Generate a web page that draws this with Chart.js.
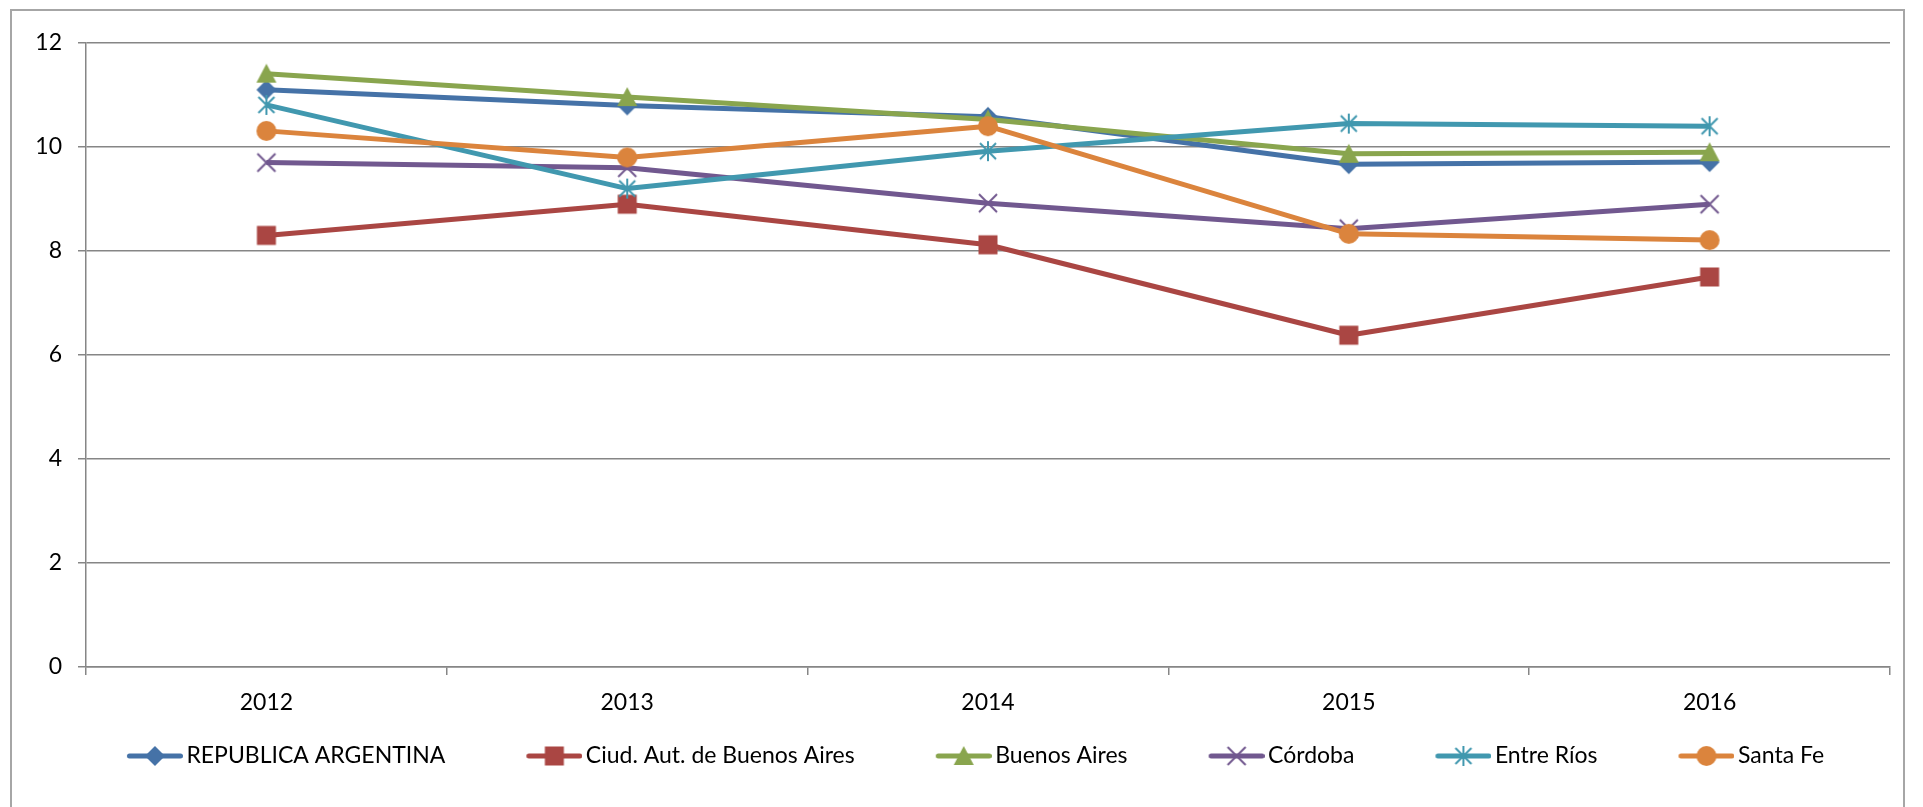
<!DOCTYPE html>
<html>
<head>
<meta charset="utf-8">
<script src="https://cdn.jsdelivr.net/npm/chart.js@4/dist/chart.umd.min.js"></script>
<style>
  html, body { margin: 0; padding: 0; background: #fff; overflow: hidden; }
  #wrap { position: relative; width: 1923px; height: 807px; }
  #frame { position: absolute; left: 10px; top: 9px; width: 1895px; height: 900px; border: 2px solid #a6a6a6; box-sizing: border-box; pointer-events: none; }
  canvas { position: absolute; left: 0; top: 0; }
</style>
</head>
<body>
<div id="wrap">
  <canvas id="c" width="1923" height="807"></canvas>
  <div id="frame"></div>
</div>
<script>
const years = ['2012', '2013', '2014', '2015', '2016'];
const seriesNames = ['REPUBLICA ARGENTINA', 'Ciud. Aut. de Buenos Aires', 'Buenos Aires', 'Córdoba', 'Entre Ríos', 'Santa Fe'];
const republicaArgentina = [11.1, 10.8, 10.58, 9.67, 9.71];
const ciudAutBuenosAires = [8.3, 8.9, 8.12, 6.38, 7.5];
const buenosAires = [11.41, 10.96, 10.53, 9.87, 9.9];
const cordoba = [9.7, 9.6, 8.92, 8.43, 8.9];
const entreRios = [10.81, 9.2, 9.92, 10.45, 10.4];
const santaFe = [10.31, 9.8, 10.4, 8.33, 8.21];
const yTicks = [0, 2, 4, 6, 8, 10, 12];

const colors = ['#4572A7', '#AA4643', '#89A54E', '#71588F', '#4198AF', '#DB843D'];
const markerKinds = ['diamond', 'square', 'triangle', 'x', 'star', 'circle'];
const values = [republicaArgentina, ciudAutBuenosAires, buenosAires, cordoba, entreRios, santaFe];

function makeMarker(kind, color) {
  const c = document.createElement('canvas');
  c.width = 24; c.height = 24;
  const g = c.getContext('2d');
  g.fillStyle = color; g.strokeStyle = color;
  const m = 12;
  g.beginPath();
  if (kind === 'diamond') {
    g.moveTo(m, m - 10); g.lineTo(m + 10, m); g.lineTo(m, m + 10); g.lineTo(m - 10, m); g.closePath(); g.fill();
  } else if (kind === 'square') {
    g.fillRect(m - 9.5, m - 9.5, 19, 19);
  } else if (kind === 'triangle') {
    g.moveTo(m, m - 10); g.lineTo(m + 10, m + 9); g.lineTo(m - 10, m + 9); g.closePath(); g.fill();
  } else if (kind === 'x') {
    g.lineWidth = 2;
    g.moveTo(m - 9, m - 9); g.lineTo(m + 9, m + 9);
    g.moveTo(m + 9, m - 9); g.lineTo(m - 9, m + 9); g.stroke();
  } else if (kind === 'star') {
    g.lineWidth = 2;
    g.moveTo(m, m - 10); g.lineTo(m, m + 10);
    g.moveTo(m - 8, m - 8); g.lineTo(m + 8, m + 8);
    g.moveTo(m + 8, m - 8); g.lineTo(m - 8, m + 8); g.stroke();
  } else if (kind === 'circle') {
    g.arc(m, m, 10, 0, Math.PI * 2); g.fill();
  }
  return c;
}

// legend icon: transparent lead-in, then line with marker, ending just before the text
const BOXW = 109;
function makeLegendIcon(marker, color) {
  const c = document.createElement('canvas');
  c.width = BOXW + 16; c.height = 24;
  const g = c.getContext('2d');
  const x0 = BOXW - 40, x1 = BOXW + 16;
  g.strokeStyle = color; g.lineWidth = 5; g.lineCap = 'round';
  g.beginPath(); g.moveTo(x0 + 2.5, 12); g.lineTo(x1 - 2.5, 12); g.stroke();
  g.drawImage(marker, (x0 + x1) / 2 - 12, 0);
  return c;
}

const markers = markerKinds.map((k, i) => makeMarker(k, colors[i]));
const legendIcons = markers.map((mk, i) => makeLegendIcon(mk, colors[i]));

const FONT = 'Lato, "Open Sans", sans-serif';
const FS = 23;

const datasets = seriesNames.map((name, i) => ({
  label: name,
  data: values[i],
  borderColor: colors[i],
  backgroundColor: colors[i],
  borderWidth: 5,
  borderJoinStyle: 'round',
  tension: 0,
  fill: false,
  pointStyle: markers[i],
  pointRadius: 10,
  pointHoverRadius: 10,
  order: seriesNames.length - i
}));

new Chart(document.getElementById('c'), {
  type: 'line',
  data: { labels: years, datasets },
  options: {
    responsive: false,
    animation: false,
    devicePixelRatio: 1,
    layout: { padding: { left: 0, right: 33, top: 43, bottom: 29.5 } },
    plugins: {
      tooltip: { enabled: false },
      legend: {
        position: 'bottom',
        labels: {
          usePointStyle: true,
          pointStyleWidth: BOXW,
          padding: 20,
          color: '#000',
          font: { family: FONT, size: FS },
          sort: (a, b) => a.datasetIndex - b.datasetIndex,
          generateLabels: (chart) => chart.data.datasets.map((ds, i) => ({
            text: ds.label,
            pointStyle: legendIcons[i],
            fillStyle: colors[i],
            strokeStyle: colors[i],
            lineWidth: 0,
            hidden: false,
            datasetIndex: i
          }))
        }
      }
    },
    scales: {
      x: {
        type: 'category',
        offset: true,
        afterFit: (s) => { s.height = 57.5; },
        grid: { offset: true, drawOnChartArea: false, drawTicks: true, tickLength: 8, color: '#868686', lineWidth: 1.5 },
        border: { display: true, color: '#868686', width: 1.5 },
        ticks: { color: '#000', font: { family: FONT, size: FS }, padding: 13.7, maxRotation: 0, autoSkip: false }
      },
      y: {
        min: 0,
        max: 12,
        afterFit: (s) => { s.width = 86; },
        afterBuildTicks: (s) => { s.ticks = yTicks.map(v => ({ value: v })); },
        grid: { color: '#868686', lineWidth: 1.5, drawTicks: true, tickLength: 8 },
        border: { display: true, color: '#868686', width: 1.5 },
        ticks: { color: '#000', font: { family: FONT, size: FS }, padding: 16 }
      }
    }
  }
});
</script>
</body>
</html>
